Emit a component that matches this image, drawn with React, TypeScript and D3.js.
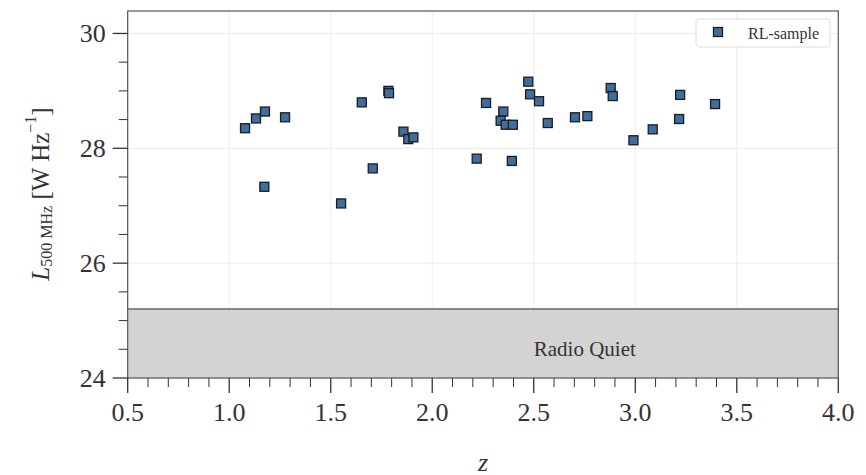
import React from "react";
import * as d3 from "d3";

// Redshift and 500 MHz luminosity (log10 W/Hz) of the radio-loud sample
const redshift = [
  1.078, 1.132, 1.176, 1.275, 1.173, 1.653, 1.784, 1.787, 1.858, 1.882, 1.907,
  1.707, 1.551, 2.473, 2.482, 2.526, 2.265, 2.879, 2.889, 2.35, 2.337, 2.362,
  2.397, 2.569, 2.703, 2.764, 2.991, 2.219, 2.392, 3.221, 3.393, 3.216, 3.086,
];
const logLum = [
  28.35, 28.52, 28.64, 28.54, 27.33, 28.8, 29.0, 28.96, 28.29, 28.16, 28.19,
  27.65, 27.04, 29.16, 28.94, 28.82, 28.79, 29.05, 28.91, 28.64, 28.48, 28.41,
  28.41, 28.44, 28.54, 28.56, 28.14, 27.82, 27.78, 28.93, 28.77, 28.51, 28.33,
];

const xTicks = [0.5, 1.0, 1.5, 2.0, 2.5, 3.0, 3.5, 4.0];
const yTicks = [24, 26, 28, 30];
const radioQuietLimit = 25.2;
const seriesName = "RL-sample";

const W = 866;
const H = 475;
const left = 127.7;
const right = 838.3;
const top = 11;
const bottom = 378;

const font = "Liberation Serif, DejaVu Serif, serif";
const txt = { fontFamily: font };

export default function App() {
  const x = d3.scaleLinear().domain([0.5, 4.0]).range([left, right]);
  const y = d3.scaleLinear().domain([24, 28]).range([bottom, 148.3]);
  const yMax = y.invert(top);

  const xMinor = d3
    .range(5, 41)
    .map((v) => v / 10)
    .filter((v) => !xTicks.some((t) => Math.abs(t - v) < 1e-6));
  const yMinor = d3
    .range(48, 61)
    .map((v) => v / 2)
    .filter((v) => v <= yMax && !yTicks.includes(v));

  const ms = 9;
  const markerFill = "#3d6e9f";
  const markerEdge = "#1c1c1c";

  return (
    <svg
      width={W}
      height={H}
      style={{ position: "absolute", left: 0, top: 0, background: "#fff", fontFamily: font }}
    >
      {/* grid */}
      {xTicks.map((t) => (
        <line key={"gx" + t} x1={x(t)} x2={x(t)} y1={top} y2={bottom} stroke="#ececec" strokeWidth={1} />
      ))}
      {yTicks.map((t) => (
        <line key={"gy" + t} x1={left} x2={right} y1={y(t)} y2={y(t)} stroke="#ececec" strokeWidth={1} />
      ))}

      {/* radio-quiet region */}
      <rect
        x={left}
        y={y(radioQuietLimit)}
        width={right - left}
        height={bottom - y(radioQuietLimit)}
        fill="#d3d3d3"
      />
      <line x1={left} x2={right} y1={y(radioQuietLimit)} y2={y(radioQuietLimit)} stroke="#666" strokeWidth={1.5} />
      <text x={x(2.5)} y={y(24.5)} dominantBaseline="central" fontSize={21} fill="#333" style={txt}>
        Radio Quiet
      </text>

      {/* points */}
      {redshift.map((z, i) => (
        <rect
          key={i}
          x={x(z) - ms / 2}
          y={y(logLum[i]) - ms / 2}
          width={ms}
          height={ms}
          fill={markerFill}
          stroke={markerEdge}
          strokeWidth={1.3}
        />
      ))}

      {/* frame */}
      <rect x={left} y={top} width={right - left} height={bottom - top} fill="none" stroke="#555" strokeWidth={1.2} />

      {/* x ticks */}
      {xTicks.map((t) => (
        <g key={"xt" + t}>
          <line x1={x(t)} x2={x(t)} y1={bottom} y2={bottom + 15} stroke="#333" strokeWidth={1.3} />
          <text
            x={x(t)}
            y={bottom + 34}
            textAnchor="middle"
            dominantBaseline="central"
            fontSize={26}
            fill="#333"
            style={txt}
          >
            {t.toFixed(1)}
          </text>
        </g>
      ))}
      {xMinor.map((t) => (
        <line key={"xm" + t} x1={x(t)} x2={x(t)} y1={bottom} y2={bottom + 9} stroke="#333" strokeWidth={1} />
      ))}

      {/* y ticks */}
      {yTicks.map((t) => (
        <g key={"yt" + t}>
          <line x1={left - 15} x2={left} y1={y(t)} y2={y(t)} stroke="#333" strokeWidth={1.3} />
          <text
            x={left - 22}
            y={y(t)}
            textAnchor="end"
            dominantBaseline="central"
            fontSize={26}
            fill="#333"
            style={txt}
          >
            {t}
          </text>
        </g>
      ))}
      {yMinor.map((t) => (
        <line key={"ym" + t} x1={left - 9} x2={left} y1={y(t)} y2={y(t)} stroke="#333" strokeWidth={1} />
      ))}

      {/* axis labels */}
      <text
        x={483}
        y={462}
        textAnchor="middle"
        dominantBaseline="central"
        fontSize={26}
        fontStyle="italic"
        fill="#333"
        style={txt}
      >
        z
      </text>
      <text
        transform="translate(40, 194) rotate(-90)"
        textAnchor="middle"
        dominantBaseline="central"
        fontSize={25}
        fill="#333"
        style={txt}
      >
        <tspan fontStyle="italic">L</tspan>
        <tspan fontSize={16} dy={6}>500 MHz</tspan>
        <tspan dy={-6}> [W Hz</tspan>
        <tspan fontSize={16} dy={-10}>−1</tspan>
        <tspan dy={10}>]</tspan>
      </text>

      {/* legend */}
      <rect x={696} y={19} width={134} height={28} rx={3} fill="#fff" fillOpacity={0.85} stroke="#ddd" strokeWidth={1} />
      <rect
        x={718 - ms / 2}
        y={32 - ms / 2}
        width={ms}
        height={ms}
        fill={markerFill}
        stroke={markerEdge}
        strokeWidth={1.3}
      />
      <text x={748} y={33} dominantBaseline="central" fontSize={16} fill="#333" style={txt}>
        {seriesName}
      </text>
    </svg>
  );
}
